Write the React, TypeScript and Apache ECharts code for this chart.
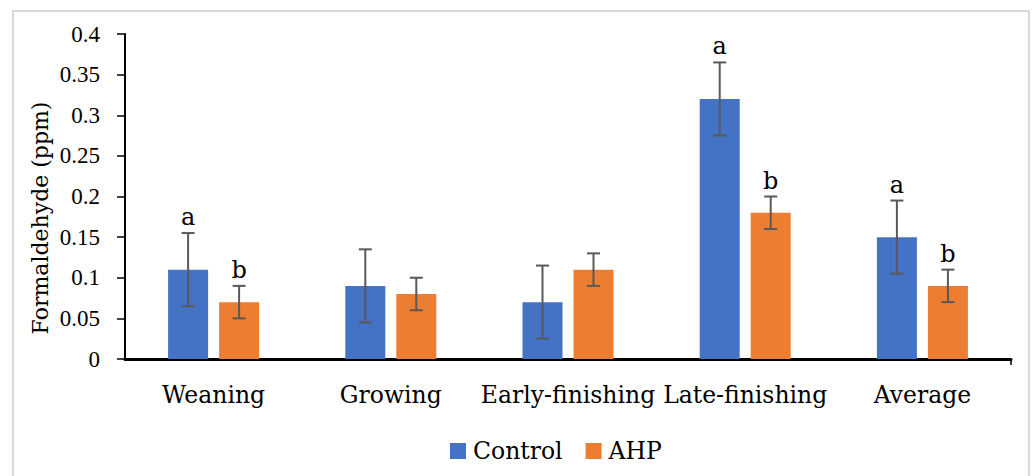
import React, { useEffect, useRef } from "react";
import * as echarts from "echarts";

const categories = ["Weaning", "Growing", "Early-finishing", "Late-finishing", "Average"];
const controlValues = [0.11, 0.09, 0.07, 0.32, 0.15];
const controlErr = [0.045, 0.045, 0.045, 0.045, 0.045];
const ahpValues = [0.07, 0.08, 0.11, 0.18, 0.09];
const ahpErr = [0.02, 0.02, 0.02, 0.02, 0.02];
const controlLetters = ["a", "", "", "a", "a"];
const ahpLetters = ["b", "", "", "b", "b"];
const yTicks = [0, 0.05, 0.1, 0.15, 0.2, 0.25, 0.3, 0.35, 0.4];

const FONT = "DejaVu Serif";
const NUM_FONT = "Liberation Serif";
const BAR_W = 40;
const BAR_GAP = 11;

function errorSeries(values: number[], errs: number[], letters: string[], offset: number) {
  return {
    type: "custom",
    silent: true,
    z: 10,
    data: values.map((v, i) => [i, v - errs[i], v + errs[i]]),
    renderItem: (params: any, api: any) => {
      const i = api.value(0);
      const lo = api.coord([i, api.value(1)]);
      const hi = api.coord([i, api.value(2)]);
      const x = hi[0] + offset;
      const cap = 6.5;
      const stroke = { stroke: "#595959", lineWidth: 2 };
      const children: any[] = [
        { type: "line", shape: { x1: x, y1: hi[1], x2: x, y2: lo[1] }, style: stroke },
        { type: "line", shape: { x1: x - cap, y1: hi[1], x2: x + cap, y2: hi[1] }, style: stroke },
        { type: "line", shape: { x1: x - cap, y1: lo[1], x2: x + cap, y2: lo[1] }, style: stroke },
      ];
      const letter = letters[params.dataIndex];
      if (letter) {
        children.push({
          type: "text",
          style: {
            text: letter,
            x,
            y: hi[1] - 4,
            align: "center",
            verticalAlign: "bottom",
            fontSize: 24,
            fontFamily: FONT,
            fill: "#000",
          },
        });
      }
      return { type: "group", children };
    },
  };
}

export default function App() {
  const ref = useRef<HTMLDivElement>(null);
  useEffect(() => {
    if (!ref.current) return;
    const chart = echarts.init(ref.current, null, { renderer: "svg" });
    const off = (BAR_W + BAR_GAP) / 2;
    chart.setOption({
      animation: false,
      backgroundColor: "#fff",
      grid: { left: 125, right: 22, top: 34, bottom: 117 },
      legend: {
        data: ["Control", "AHP"],
        top: 434,
        left: 445,
        icon: "rect",
        itemWidth: 16,
        itemHeight: 16,
        itemGap: 23,
        textStyle: { fontSize: 23.5, fontFamily: FONT, color: "#000", padding: [0, 0, 0, 2] },
      },
      xAxis: {
        type: "category",
        data: categories,
        axisLine: { lineStyle: { color: "#000", width: 3 } },
        axisTick: { alignWithLabel: true, length: 6, lineStyle: { color: "#000", width: 1.5 } },
        axisLabel: { margin: 24, fontSize: 23.5, fontFamily: FONT, color: "#000", interval: 0 },
        splitLine: { show: false },
      },
      yAxis: {
        type: "value",
        min: yTicks[0],
        max: yTicks[yTicks.length - 1],
        interval: 0.05,
        axisLine: { show: true, lineStyle: { color: "#000", width: 2 } },
        axisTick: { show: true, length: 8, lineStyle: { color: "#000", width: 1.5 } },
        axisLabel: { margin: 25, fontSize: 23, fontFamily: NUM_FONT, color: "#000" },
        splitLine: { show: false },
      },
      graphic: [
        {
          type: "rect",
          shape: { x: 13, y: 11, width: 1016, height: 480 },
          style: { fill: "none", stroke: "#d9d9d9", lineWidth: 2 },
          silent: true,
        },
        {
          type: "line",
          shape: { x1: 1011, y1: 359, x2: 1011, y2: 365 },
          style: { stroke: "#000", lineWidth: 1.5 },
          silent: true,
        },
        {
          type: "text",
          x: 40,
          y: 218,
          rotation: Math.PI / 2,
          style: {
            text: "Formaldehyde (ppm)",
            align: "center",
            verticalAlign: "middle",
            fontSize: 22,
            fontFamily: FONT,
            fill: "#000",
          },
          silent: true,
        },
      ],
      series: [
        {
          name: "Control",
          type: "bar",
          data: controlValues,
          barWidth: BAR_W,
          barGap: `${(BAR_GAP / BAR_W) * 100}%`,
          itemStyle: { color: "#4472C4" },
        },
        {
          name: "AHP",
          type: "bar",
          data: ahpValues,
          barWidth: BAR_W,
          itemStyle: { color: "#ED7D31" },
        },
        errorSeries(controlValues, controlErr, controlLetters, -off),
        errorSeries(ahpValues, ahpErr, ahpLetters, off),
      ],
    });
    return () => chart.dispose();
  }, []);
  return (
    <div
      ref={ref}
      style={{ position: "fixed", left: 0, top: 0, width: 1033, height: 476 }}
    />
  );
}
